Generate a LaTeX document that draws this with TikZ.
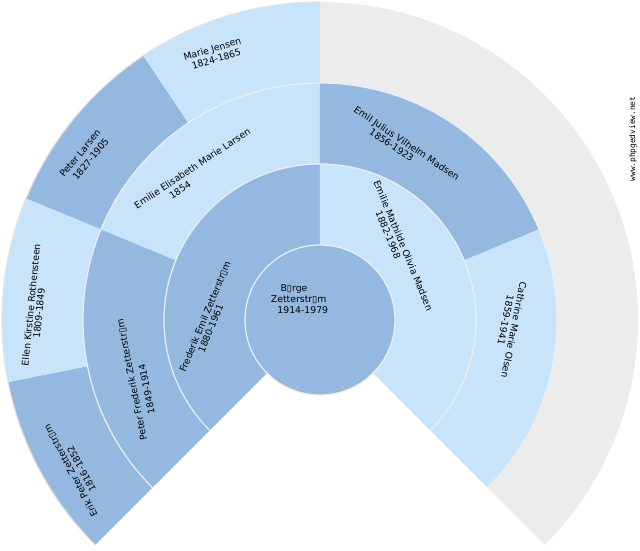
\documentclass[tikz,border=0pt]{standalone}
\usepackage{fontspec}
\setmainfont{DejaVu Sans}
\newfontfamily\wmfont{DejaVu Sans Mono}
\definecolor{mcol}{HTML}{95B8E0}
\definecolor{fcol}{HTML}{C8E4FA}
\definecolor{ecol}{HTML}{ECECEC}
\definecolor{sepcol}{HTML}{EEEEEE}
\definecolor{rimcol}{HTML}{E2E2E2}
\newcommand\fansector[5]{%
  \fill[#5] (#1:#3pt) arc[start angle=#1,end angle=#2,radius=#3pt]
    -- (#2:#4pt) arc[start angle=#2,end angle=#1,radius=#4pt] -- cycle;}
\begin{document}
\begin{tikzpicture}[x=1pt,y=1pt,
  lbl/.style={font=\fontsize{9.3}{11}\selectfont, inner sep=0pt, text height=6.8pt, text depth=0pt, anchor=center},
  sepline/.style={draw=sepcol, line width=1.2pt},
  rimline/.style={draw=rimcol, line width=1.2pt},
  wmark/.style={font=\wmfont\fontsize{7.8}{8}\selectfont, inner sep=0pt, rotate=90}]
\useasboundingbox (-320,-230) rectangle (320,320);
% generation 3
\fansector{191.25}{225}{237}{318}{mcol}
\fansector{157.5}{191.25}{237}{318}{fcol}
\fansector{123.75}{157.5}{237}{318}{mcol}
\fansector{90}{123.75}{237}{318}{fcol}
\fansector{-45}{90}{237}{318}{ecol}
% generation 2
\fansector{157.5}{225}{156}{237}{mcol}
\fansector{90}{157.5}{156}{237}{fcol}
\fansector{22.5}{90}{156}{237}{mcol}
\fansector{-45}{22.5}{156}{237}{fcol}
% generation 1
\fansector{90}{225}{75}{156}{mcol}
\fansector{-45}{90}{75}{156}{fcol}
% root
\fill[mcol] (0,0) circle[radius=75pt];
% separators
\draw[sepline] (0,0) circle[radius=75pt];
\draw[sepline] (225:156pt) arc[start angle=225,end angle=-45,radius=156pt];
\draw[sepline] (225:237pt) arc[start angle=225,end angle=-45,radius=237pt];
\draw[rimline] (225:318pt) arc[start angle=225,end angle=90,radius=318pt];
% labels: root
\node[lbl] (r1) at (-26,31.7) {B▯rge};
\node[lbl] (r2) at (-21.3,20.7) {Zetterstr▯m};
\node[lbl] (r3) at (-17.2,10) {1914-1979};
% generation 1
\node[lbl,rotate=67.5] (fa1) at (-115,3.3) {Frederik Emil Zetterstr▯m};
\node[lbl,rotate=67.5] (fa2) at (-109.3,-8.3) {1880-1961};
\node[lbl,rotate=-67.5] (mo1) at (83.3,74.3) {Emilie Mathilde Olivia Madsen};
\node[lbl,rotate=-67.5] (mo2) at (68.3,85) {1882-1968};
% generation 2
\node[lbl,rotate=101.25] (ff1) at (-188.3,-60) {Peter Frederik Zetterstr▯m};
\node[lbl,rotate=101.25] (ff2) at (-173.3,-69) {1849-1914};
\node[lbl,rotate=33.75] (fm1) at (-127.7,151.7) {Emilie Elisabeth Marie Larsen};
\node[lbl,rotate=33.75] (fm2) at (-140,130) {1854};
\node[lbl,rotate=-33.75] (mf1) at (86.7,176.7) {Emil Julius Vilhelm Madsen};
\node[lbl,rotate=-33.75] (mf2) at (71.7,175) {1856-1923};
\node[lbl,rotate=-101.25] (mm1) at (194,-10) {Cathrine Marie Olsen};
\node[lbl,rotate=-101.25] (mm2) at (185.7,0) {1859-1941};
% generation 3
\node[lbl,rotate=118.125] (fff1) at (-249.45,-150.83) {Erik Peter Zetterstr▯m};
\node[lbl,rotate=118.125] (fff2) at (-238.55,-148.97) {1816-1852};
\node[lbl,rotate=84.375] (ffm1) at (-289,15) {Ellen Kirstine Rothensteen};
\node[lbl,rotate=84.375] (ffm2) at (-281,6.7) {1809-1849};
\node[lbl,rotate=50.625] (fmf1) at (-240,166.7) {Peter Larsen};
\node[lbl,rotate=50.625] (fmf2) at (-229.3,161) {1827-1905};
\node[lbl,rotate=16.875] (fmm1) at (-107.7,271) {Marie Jensen};
\node[lbl,rotate=16.875] (fmm2) at (-103.7,261) {1824-1865};
% watermark
\node[wmark] (wm) at (313,181) {www.phpgedview.net};
\end{tikzpicture}
\end{document}
